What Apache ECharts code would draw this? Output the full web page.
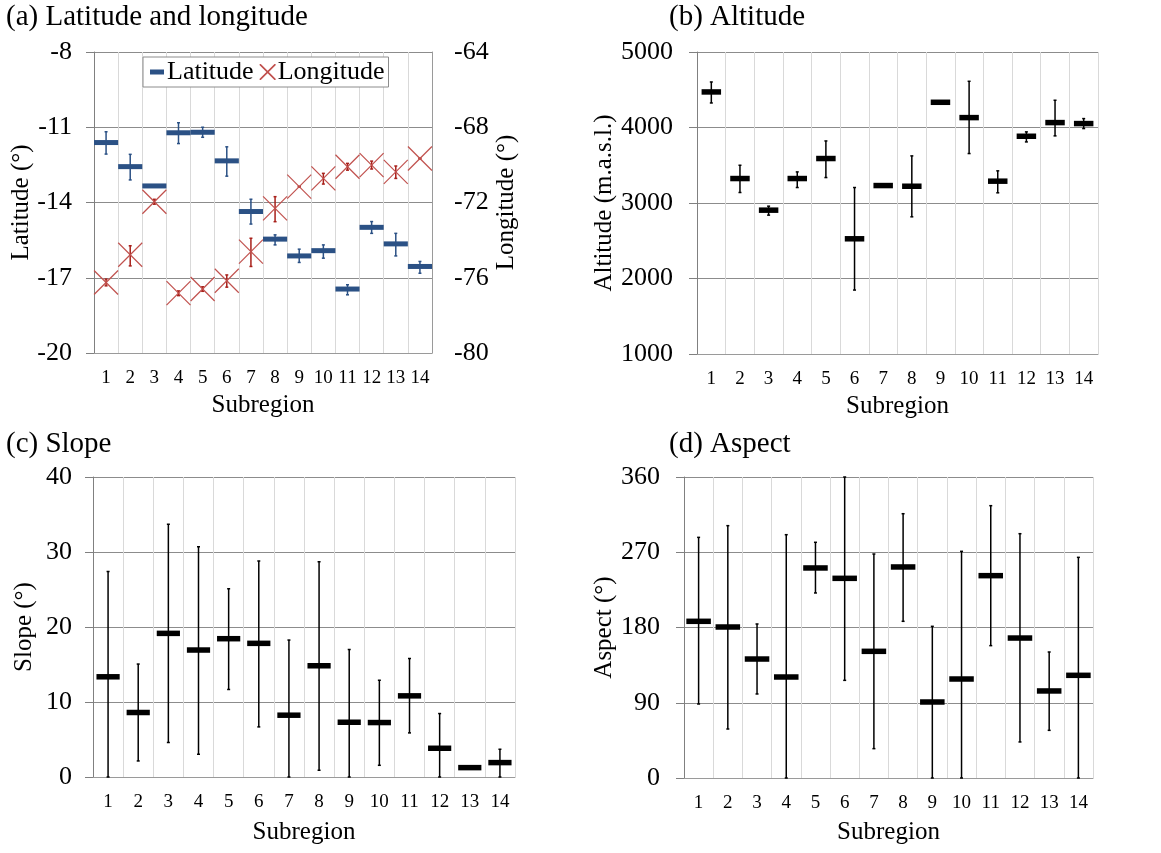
<!DOCTYPE html>
<html>
<head>
<meta charset="utf-8">
<script src="https://cdn.jsdelivr.net/npm/echarts@6/dist/echarts.min.js"></script>
<style>
  html, body { margin: 0; padding: 0; background: #fff; }
  #main { width: 1161px; height: 853px; }
</style>
</head>
<body>
<div id="main"></div>
<script>
var subregions = ['1', '2', '3', '4', '5', '6', '7', '8', '9', '10', '11', '12', '13', '14'];

// (a) latitude / longitude: mean, lower, upper
var latMean = [-11.61, -12.57, -13.34, -11.22, -11.2, -12.34, -14.36, -15.46, -16.13, -15.92, -17.45, -14.99, -15.65, -16.55];
var latLow  = [-12.07, -13.1, -13.38, -11.65, -11.4, -12.95, -14.86, -15.69, -16.39, -16.22, -17.68, -15.23, -16.13, -16.82];
var latHigh = [-11.18, -12.08, -13.3, -10.82, -11.0, -11.78, -13.87, -15.29, -15.86, -15.69, -17.28, -14.76, -15.23, -16.35];
var lonMean = [-76.25, -74.78, -71.96, -76.82, -76.6, -76.16, -74.61, -72.31, -71.16, -70.72, -70.1, -70.01, -70.37, -69.66];
var lonLow  = [-76.43, -75.37, -72.09, -76.95, -76.72, -76.5, -75.4, -73.02, -71.18, -71.02, -70.28, -70.22, -70.72, -69.68];
var lonHigh = [-76.07, -74.3, -71.83, -76.7, -76.48, -75.85, -73.9, -71.69, -71.14, -70.45, -69.92, -69.8, -70.06, -69.64];

// (b) altitude
var altMean = [4471, 3324, 2905, 3324, 3589, 2526, 3231, 3222, 4334, 4131, 3289, 3884, 4065, 4052];
var altLow  = [4325, 3139, 2839, 3205, 3337, 1847, 3226, 2817, 4320, 3655, 3135, 3809, 3889, 3986];
var altHigh = [4603, 3500, 2958, 3412, 3822, 3205, 3236, 3624, 4348, 4612, 3426, 3942, 4361, 4118];

// (c) slope
var slopeMean = [13.36, 8.6, 19.15, 16.93, 18.44, 17.82, 8.24, 14.83, 7.3, 7.26, 10.82, 3.83, 1.25, 1.92];
var slopeLow  = [0, 2.14, 4.6, 3.03, 11.67, 6.68, 0, 0.9, 0, 1.56, 5.88, 0, 1.2, 0];
var slopeHigh = [27.4, 15.06, 33.7, 30.7, 25.1, 28.8, 18.26, 28.7, 17.0, 12.9, 15.8, 8.46, 1.3, 3.7];

// (d) aspect
var aspMean = [187.4, 180.6, 142.3, 120.8, 251.2, 238.8, 151.5, 252.4, 90.9, 118.4, 242.0, 167.4, 104.1, 122.8];
var aspLow  = [88.5, 58.6, 100.5, 0, 221.3, 116.8, 35.1, 187.4, 0, 0, 158.3, 43.1, 57.0, 0];
var aspHigh = [287.8, 301.8, 184.2, 291.0, 281.9, 360, 267.9, 316.1, 181.4, 271.1, 325.7, 292.2, 150.7, 263.9];

var FONT = 'Liberation Serif';
var BLUE = '#2b5185';
var RED = '#c0504d';

function rows(mean, low, high) {
    return mean.map(function (m, i) { return [i, m, low[i], high[i]]; });
}

function errLines(c, lo, hi, errColor) {
    return [
        { type: 'line', shape: { x1: c[0], y1: hi[1], x2: c[0], y2: lo[1] }, style: { stroke: errColor, lineWidth: 1.5 } },
        { type: 'line', shape: { x1: c[0] - 1.5, y1: hi[1], x2: c[0] + 1.5, y2: hi[1] }, style: { stroke: errColor, lineWidth: 1.5 } },
        { type: 'line', shape: { x1: c[0] - 1.5, y1: lo[1], x2: c[0] + 1.5, y2: lo[1] }, style: { stroke: errColor, lineWidth: 1.5 } }
    ];
}

// mean as a flat bar, range as a thin vertical line
function barRender(ratio, barH, color, errColor) {
    return function (params, api) {
        var x = api.value(0);
        var c = api.coord([x, api.value(1)]);
        var lo = api.coord([x, api.value(2)]);
        var hi = api.coord([x, api.value(3)]);
        var w = api.size([1, 0])[0] * ratio;
        var kids = errLines(c, lo, hi, errColor);
        kids.push({ type: 'rect', shape: { x: c[0] - w / 2, y: c[1] - barH / 2, width: w, height: barH }, style: { fill: color } });
        return { type: 'group', children: kids };
    };
}

// mean as a big X, range as a vertical line
function crossRender(size, color, errColor) {
    return function (params, api) {
        var x = api.value(0);
        var c = api.coord([x, api.value(1)]);
        var lo = api.coord([x, api.value(2)]);
        var hi = api.coord([x, api.value(3)]);
        var h = size / 2;
        var kids = errLines(c, lo, hi, errColor);
        kids.push({ type: 'line', shape: { x1: c[0] - h, y1: c[1] - h, x2: c[0] + h, y2: c[1] + h }, style: { stroke: color, lineWidth: 1.2 } });
        kids.push({ type: 'line', shape: { x1: c[0] - h, y1: c[1] + h, x2: c[0] + h, y2: c[1] - h }, style: { stroke: color, lineWidth: 1.2 } });
        return { type: 'group', children: kids };
    };
}

function catAxis(gridIndex, labelMargin, nameGap) {
    return {
        type: 'category',
        gridIndex: gridIndex,
        data: subregions,
        boundaryGap: true,
        name: 'Subregion',
        nameLocation: 'middle',
        nameGap: nameGap,
        nameTextStyle: { fontFamily: FONT, fontSize: 25, color: '#000' },
        axisLine: { lineStyle: { color: '#9a9a9a' } },
        axisTick: { show: false },
        axisLabel: { interval: 0, margin: labelMargin, fontFamily: FONT, fontSize: 19, color: '#000' },
        splitLine: { show: true, interval: 0, lineStyle: { color: '#d9d9d9' } }
    };
}

function valAxis(gridIndex, name, nameGap, min, max, interval, margin) {
    var ax = {
        type: 'value',
        gridIndex: gridIndex,
        min: min,
        max: max,
        name: name,
        nameLocation: 'middle',
        nameRotate: 90,
        nameGap: nameGap,
        nameTextStyle: { fontFamily: FONT, fontSize: 25, color: '#000' },
        axisLine: { show: true, lineStyle: { color: '#808080' } },
        axisTick: { show: true, length: 8, lineStyle: { color: '#808080' } },
        axisLabel: {
            margin: margin, fontFamily: FONT, fontSize: 26, color: '#000',
            formatter: function (v) { return String(v); }
        },
        splitLine: { show: true, lineStyle: { color: '#8c8c8c' } }
    };
    if (interval != null) ax.interval = interval;
    return ax;
}

var latAxis = valAxis(0, 'Latitude (°)', 56, -20, -8, null, 22);
latAxis.alignTicks = true;

var lonAxis = valAxis(0, 'Longitude (°)', 62, -80, -64, 4, 22);
lonAxis.position = 'right';
lonAxis.axisTick = { show: false };
lonAxis.axisLine = { show: true, lineStyle: { color: '#9a9a9a' } };
lonAxis.splitLine = { show: false };

var xIcon = 'path://M0,0L1.2,0L8,6.8L14.8,0L16,0L16,1.2L9.2,8L16,14.8L16,16L14.8,16L8,9.2L1.2,16L0,16L0,14.8L6.8,8L0,1.2Z';
var dashIcon = 'path://M0,0L0,0ZM1,5.5L15,5.5L15,10.5L1,10.5ZM16,16L16,16Z';

var myChart = echarts.init(document.getElementById('main'), null, { renderer: 'canvas' });

myChart.setOption({
    backgroundColor: '#fff',
    animation: false,
    title: [
        { text: '(a) Latitude and longitude', left: 6, top: 3 },
        { text: '(b) Altitude', left: 669, top: 3 },
        { text: '(c) Slope', left: 6, top: 430 },
        { text: '(d) Aspect', left: 669, top: 430 }
    ].map(function (t) {
        t.padding = 0;
        t.textStyle = { fontFamily: FONT, fontSize: 29, fontWeight: 'normal', color: '#000' };
        return t;
    }),
    legend: {
        left: 143,
        top: 57,
        orient: 'horizontal',
        itemWidth: 16,
        itemHeight: 16,
        itemGap: 6,
        padding: [2, 4, 2, 6],
        borderColor: '#8c8c8c',
        borderWidth: 1,
        backgroundColor: '#fff',
        textStyle: { fontFamily: FONT, fontSize: 26, color: '#000', padding: [0, 0, 0, -3] },
        data: [
            { name: 'Latitude', icon: dashIcon, itemStyle: { color: BLUE } },
            { name: 'Longitude', icon: xIcon, itemStyle: { color: RED } }
        ]
    },
    grid: [
        { left: 94, top: 52, width: 338, height: 301 },
        { left: 697, top: 52, width: 401, height: 302 },
        { left: 93, top: 477, width: 422, height: 300 },
        { left: 684, top: 477, width: 409, height: 301 }
    ],
    xAxis: [
        catAxis(0, 16, 40),
        catAxis(1, 16, 40),
        catAxis(2, 16, 43),
        catAxis(3, 16, 42)
    ],
    yAxis: [
        latAxis,
        lonAxis,
        valAxis(1, 'Altitude (m.a.s.l.)', 76, 1000, 5000, 1000, 24),
        valAxis(2, 'Slope (°)', 56, 0, 40, 10, 21),
        valAxis(3, 'Aspect (°)', 67, 0, 360, 90, 24)
    ],
    series: [
        {
            name: 'Latitude', type: 'custom', xAxisIndex: 0, yAxisIndex: 0,
            renderItem: barRender(1.0, 5, BLUE, BLUE),
            encode: { x: 0, y: 1 },
            data: rows(latMean, latLow, latHigh),
            z: 3
        },
        {
            name: 'Longitude', type: 'custom', xAxisIndex: 0, yAxisIndex: 1,
            renderItem: crossRender(24, RED, '#a8201a'),
            encode: { x: 0, y: 1 },
            data: rows(lonMean, lonLow, lonHigh),
            z: 4
        },
        {
            name: 'Altitude', type: 'custom', xAxisIndex: 1, yAxisIndex: 2,
            renderItem: barRender(0.68, 5.5, '#000', '#000'),
            encode: { x: 0, y: 1 },
            data: rows(altMean, altLow, altHigh)
        },
        {
            name: 'Slope', type: 'custom', xAxisIndex: 2, yAxisIndex: 3,
            renderItem: barRender(0.77, 5.5, '#000', '#000'),
            encode: { x: 0, y: 1 },
            data: rows(slopeMean, slopeLow, slopeHigh)
        },
        {
            name: 'Aspect', type: 'custom', xAxisIndex: 3, yAxisIndex: 4,
            renderItem: barRender(0.84, 5.5, '#000', '#000'),
            encode: { x: 0, y: 1 },
            data: rows(aspMean, aspLow, aspHigh)
        }
    ]
});
</script>
</body>
</html>
